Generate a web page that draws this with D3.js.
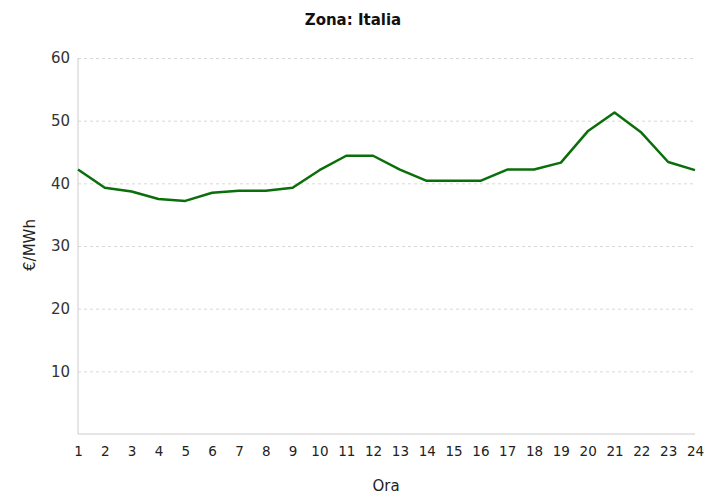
<!DOCTYPE html>
<html>
<head>
<meta charset="utf-8">
<script src="https://cdn.jsdelivr.net/npm/d3@7"></script>
<style>
  body { margin: 0; background: #ffffff; }
  svg { display: block; font-family: "DejaVu Sans", Verdana, sans-serif; }
  .grid line { stroke: #d8d8d8; stroke-dasharray: 3,3; }
  .grid path { display: none; }
</style>
</head>
<body>
<div id="chart"></div>
<script>
// Dati: prezzo orario (€/MWh), zona Italia
const ore = d3.range(1, 25);
const prezzi = [42.2, 39.3, 38.7, 37.5, 37.2, 38.5, 38.8, 38.8, 39.3, 42.1, 44.4, 44.4,
                42.2, 40.4, 40.4, 40.4, 42.2, 42.2, 43.3, 48.3, 51.3, 48.1, 43.4, 42.1];
const yTicks = [10, 20, 30, 40, 50, 60];

const W = 706, H = 495;
const margin = { top: 58, right: 11, bottom: 61, left: 78 };
const width = W - margin.left - margin.right;
const height = H - margin.top - margin.bottom;

const svg = d3.select("#chart").append("svg")
  .attr("width", W)
  .attr("height", H);

const g = svg.append("g")
  .attr("transform", `translate(${margin.left},${margin.top})`);

// Scale
const x = d3.scaleLinear().domain([1, 24]).range([0, width]);
const y = d3.scaleLinear().domain([0, 60]).range([height, 0]);

// Titolo
svg.append("text")
  .attr("x", 353)
  .attr("y", 25)
  .attr("text-anchor", "middle")
  .style("font-size", "15px")
  .style("font-weight", "bold")
  .style("fill", "#111")
  .text("Zona: Italia");

// Griglia orizzontale
g.append("g")
  .attr("class", "grid")
  .call(d3.axisLeft(y).tickValues(yTicks).tickSize(-width).tickFormat(""));

// Assi
g.append("line")
  .attr("x1", 0).attr("x2", 0)
  .attr("y1", 0).attr("y2", height)
  .attr("stroke", "#cccccc");

g.append("line")
  .attr("x1", 0).attr("x2", width)
  .attr("y1", height).attr("y2", height)
  .attr("stroke", "#cccccc");

const yAxis = g.append("g")
  .call(d3.axisLeft(y).tickValues(yTicks).tickSize(0).tickPadding(8));
yAxis.select(".domain").remove();
yAxis.selectAll("text")
  .style("font-size", "15px")
  .style("fill", "#333")
  .style("font-family", "DejaVu Sans, Verdana, sans-serif");

const xAxis = g.append("g")
  .attr("transform", `translate(0,${height})`)
  .call(d3.axisBottom(x).tickValues(ore).tickFormat(d3.format("d")).tickSize(0).tickPadding(12));
xAxis.select(".domain").remove();
xAxis.selectAll("text")
  .style("font-size", "13.5px")
  .style("fill", "#222")
  .style("font-family", "DejaVu Sans, Verdana, sans-serif");

// Etichette assi
svg.append("text")
  .attr("x", 386)
  .attr("y", 491)
  .attr("text-anchor", "middle")
  .style("font-size", "15px")
  .style("fill", "#222")
  .text("Ora");

svg.append("text")
  .attr("transform", "translate(35,245) rotate(-90)")
  .attr("text-anchor", "middle")
  .style("font-size", "15px")
  .style("fill", "#222")
  .text("€/MWh");

// Linea
const line = d3.line()
  .x((d, i) => x(ore[i]))
  .y(d => y(d));

g.append("path")
  .datum(prezzi)
  .attr("fill", "none")
  .attr("stroke", "#0a6e0a")
  .attr("stroke-width", 2.5)
  .attr("stroke-linejoin", "round")
  .attr("d", line);
</script>
</body>
</html>
